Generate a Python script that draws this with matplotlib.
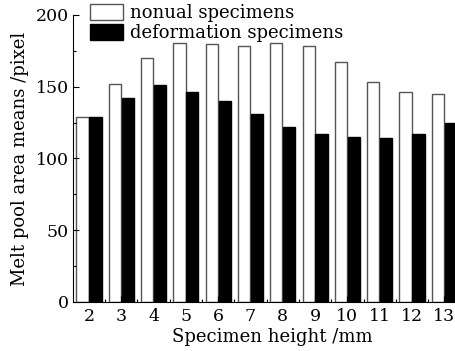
import matplotlib
matplotlib.use("Agg")
import matplotlib.pyplot as plt
from matplotlib.ticker import MultipleLocator
import numpy as np

heights = [2, 3, 4, 5, 6, 7, 8, 9, 10, 11, 12, 13]
nonual = [129, 152, 170, 180.5, 180, 178, 180.5, 178, 167.5, 153, 146, 145]
deformation = [129, 142, 151.5, 146.5, 140, 131, 122, 117, 115, 114.5, 117, 124.5]

plt.rcParams['font.family'] = 'DejaVu Serif'
plt.rcParams['font.size'] = 13

fig = plt.figure(figsize=(4.56, 3.51), dpi=100)
ax = fig.add_axes([0.160, 0.140, 0.840, 0.8175])

x = np.arange(len(heights))
w = 0.38
ax.bar(x - 0.2, nonual, w, color='white', edgecolor='#555555', linewidth=1.0,
       label='nonual specimens')
ax.bar(x + 0.2, deformation, w, color='black', edgecolor='black', linewidth=1.0,
       label='deformation specimens')

ax.set_xlim(-0.495, 11.36)
ax.set_ylim(0, 200)
ax.set_xticks(x)
ax.set_xticklabels([str(h) for h in heights])
ax.xaxis.set_minor_locator(MultipleLocator(0.5))
ax.yaxis.set_major_locator(MultipleLocator(50))
ax.yaxis.set_minor_locator(MultipleLocator(25))
ax.tick_params(which='both', direction='in', width=0.8, labelsize=12.5)
ax.tick_params(axis='x', pad=4.5)
ax.tick_params(axis='y', pad=3)
ax.tick_params(which='major', length=4)
ax.tick_params(which='minor', length=2)
ax.spines['top'].set_visible(False)
ax.spines['right'].set_visible(False)

ax.set_ylabel('Melt pool area means /pixel', labelpad=5)
ax.set_xlabel('Specimen height /mm')
ax.xaxis.set_label_coords(0.52, -0.092)

ax.legend(loc='upper left', bbox_to_anchor=(0.197, 0.99), bbox_transform=fig.transFigure,
          frameon=False, handlelength=1.85, handleheight=1.0, handletextpad=0.4,
          labelspacing=0.1, borderpad=0.0, borderaxespad=0)

fig.savefig('out.png', dpi=100)
